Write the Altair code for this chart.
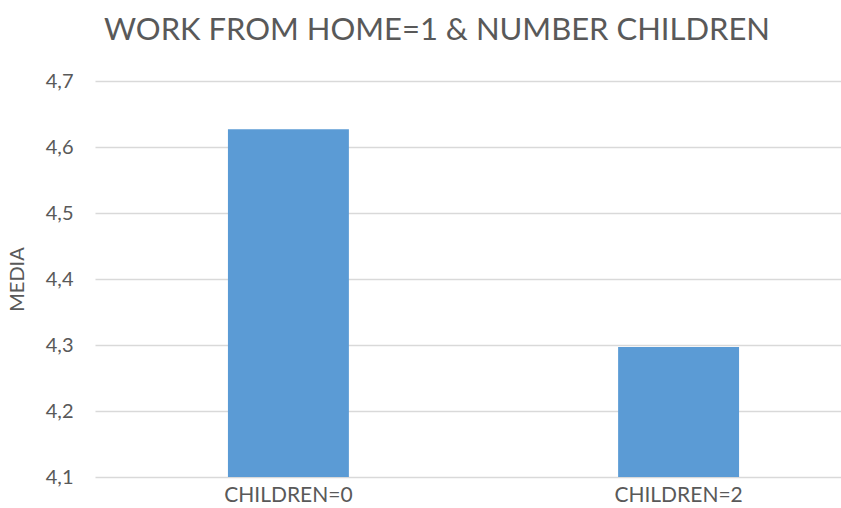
import altair as alt
import pandas as pd

categories = ["CHILDREN=0", "CHILDREN=2"]
values = [4.627, 4.297]
y_ticks = [4.1, 4.2, 4.3, 4.4, 4.5, 4.6, 4.7]

df = pd.DataFrame({"cat": categories, "media": values})

FONT = "Lato"
GREY = "#595959"

chart = alt.Chart(df).mark_bar(color="#5b9bd5").encode(
    x=alt.X("cat:N", sort=categories, title=None,
            scale=alt.Scale(paddingInner=0.69, paddingOuter=0.301, align=0.566),
            axis=alt.Axis(labelAngle=0, labelFont=FONT, labelFontSize=21, labelColor=GREY,
                          ticks=False, domain=False, labelPadding=7, grid=False)),
    y=alt.Y("media:Q", title="MEDIA",
            scale=alt.Scale(domain=[4.1, 4.7], zero=False, nice=False),
            axis=alt.Axis(values=y_ticks,
                          labelExpr="replace(format(datum.value, '.1f'), '.', ',')",
                          labelFont=FONT, labelFontSize=20, labelColor=GREY,
                          ticks=False, domain=False, labelPadding=22,
                          grid=True, gridColor="#d9d9d9", gridWidth=1.5,
                          titleFont=FONT, titleFontSize=20, titleFontWeight="normal",
                          titleColor=GREY, titleX=-68)),
    y2=alt.datum(4.1),
).properties(
    width=746,
    height=396,
    title=alt.TitleParams("WORK FROM HOME=1 & NUMBER CHILDREN", font=FONT, fontSize=31,
                          fontWeight="normal", color=GREY, anchor="middle", dx=-31, offset=24),
    autosize=alt.AutoSizeParams(type="none"),
    padding={"left": 95, "top": 81, "right": 0, "bottom": 31},
    background="white",
).configure_view(stroke=None)

chart.save("out.html", embed_options={"renderer": "svg", "actions": False})
